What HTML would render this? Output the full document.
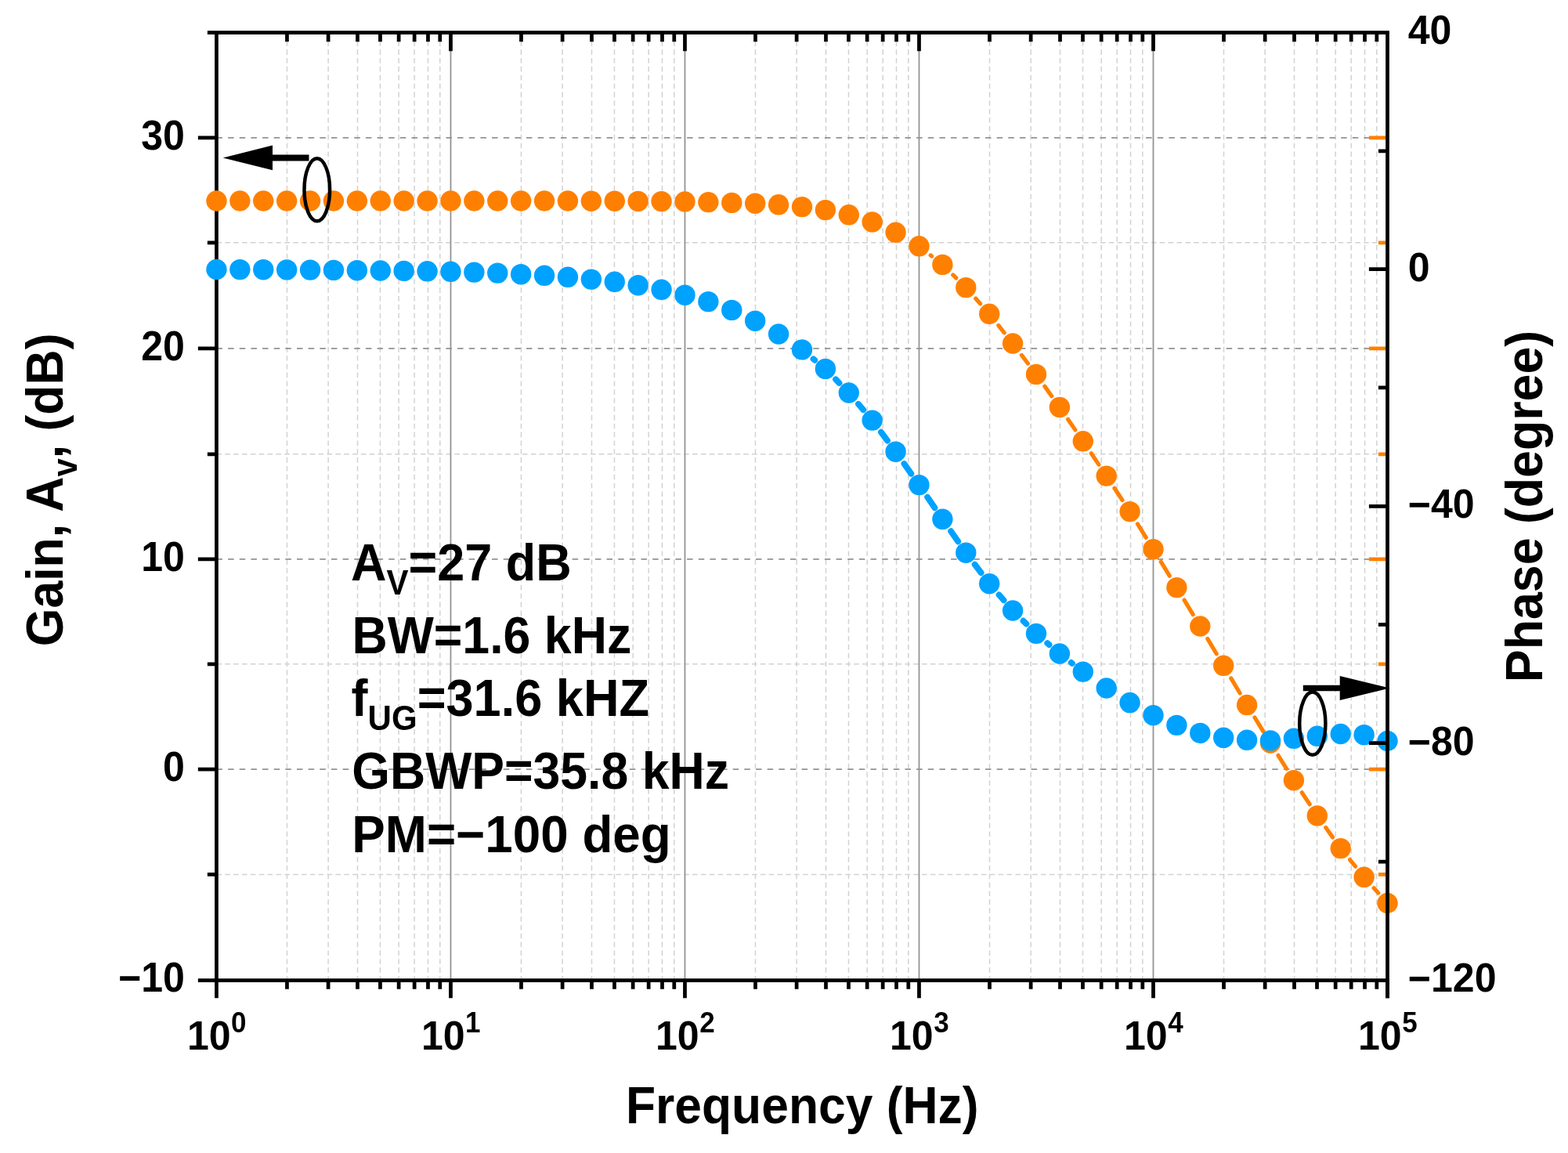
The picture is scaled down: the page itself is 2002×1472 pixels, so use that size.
<!DOCTYPE html>
<html lang="en"><head><meta charset="utf-8"><title>Gain and Phase vs Frequency</title>
<style>html,body{margin:0;padding:0;background:#fff;}body{width:2002px;height:1472px;overflow:hidden;}svg{display:block;}text{font-family:"Liberation Sans",sans-serif;font-weight:bold;fill:#000;}</style>
</head><body>
<svg width="2002" height="1472" viewBox="0 0 2002 1472">
<rect width="2002" height="1472" fill="#fff"/>
<g fill="none" stroke-width="1.8">
<path d="M366.46 41.6V1251.55M419.11 41.6V1251.55M456.47 41.6V1251.55M485.45 41.6V1251.55M509.13 41.6V1251.55M529.14 41.6V1251.55M546.48 41.6V1251.55M561.78 41.6V1251.55M665.47 41.6V1251.55M718.12 41.6V1251.55M755.48 41.6V1251.55M784.46 41.6V1251.55M808.14 41.6V1251.55M828.15 41.6V1251.55M845.49 41.6V1251.55M860.79 41.6V1251.55M964.48 41.6V1251.55M1017.13 41.6V1251.55M1054.49 41.6V1251.55M1083.47 41.6V1251.55M1107.15 41.6V1251.55M1127.16 41.6V1251.55M1144.5 41.6V1251.55M1159.8 41.6V1251.55M1263.49 41.6V1251.55M1316.14 41.6V1251.55M1353.5 41.6V1251.55M1382.48 41.6V1251.55M1406.16 41.6V1251.55M1426.17 41.6V1251.55M1443.51 41.6V1251.55M1458.81 41.6V1251.55M1562.5 41.6V1251.55M1615.15 41.6V1251.55M1652.51 41.6V1251.55M1681.49 41.6V1251.55M1705.17 41.6V1251.55M1725.18 41.6V1251.55M1742.52 41.6V1251.55M1757.82 41.6V1251.55" stroke="#d2d2d2" stroke-width="1.5" stroke-dasharray="6.6 4.25"/>
<path d="M276.45 309.86H1771.5M276.45 579.86H1771.5M276.45 847.8H1771.5M276.45 1116.4H1771.5" stroke="#d2d2d2" stroke-width="1.5" stroke-dasharray="6.6 4.25"/>
<path d="M575.46 41.6V1251.55M874.47 41.6V1251.55M1173.48 41.6V1251.55M1472.49 41.6V1251.55" stroke="#939393"/>
<path d="M276.45 175.85H1771.5M276.45 444.86H1771.5M276.45 713.97H1771.5M276.45 982.05H1771.5" stroke="#939393" stroke-dasharray="7.5 7.15"/>
</g>
<g fill="none" stroke="#000" stroke-width="4.75">
<path d="M276.45 41.6V1274.25"/>
<path d="M252.85 1251.55H1773.88"/>
<path d="M264.85 41.6H1773.88"/>
<path d="M366.46 1251.55V1262.85M366.46 41.6V53.2M419.11 1251.55V1262.85M419.11 41.6V53.2M456.47 1251.55V1262.85M456.47 41.6V53.2M485.45 1251.55V1262.85M485.45 41.6V53.2M509.13 1251.55V1262.85M509.13 41.6V53.2M529.14 1251.55V1262.85M529.14 41.6V53.2M546.48 1251.55V1262.85M546.48 41.6V53.2M561.78 1251.55V1262.85M561.78 41.6V53.2M575.46 1251.55V1274.25M575.46 41.6V65.2M665.47 1251.55V1262.85M665.47 41.6V53.2M718.12 1251.55V1262.85M718.12 41.6V53.2M755.48 1251.55V1262.85M755.48 41.6V53.2M784.46 1251.55V1262.85M784.46 41.6V53.2M808.14 1251.55V1262.85M808.14 41.6V53.2M828.15 1251.55V1262.85M828.15 41.6V53.2M845.49 1251.55V1262.85M845.49 41.6V53.2M860.79 1251.55V1262.85M860.79 41.6V53.2M874.47 1251.55V1274.25M874.47 41.6V65.2M964.48 1251.55V1262.85M964.48 41.6V53.2M1017.13 1251.55V1262.85M1017.13 41.6V53.2M1054.49 1251.55V1262.85M1054.49 41.6V53.2M1083.47 1251.55V1262.85M1083.47 41.6V53.2M1107.15 1251.55V1262.85M1107.15 41.6V53.2M1127.16 1251.55V1262.85M1127.16 41.6V53.2M1144.5 1251.55V1262.85M1144.5 41.6V53.2M1159.8 1251.55V1262.85M1159.8 41.6V53.2M1173.48 1251.55V1274.25M1173.48 41.6V65.2M1263.49 1251.55V1262.85M1263.49 41.6V53.2M1316.14 1251.55V1262.85M1316.14 41.6V53.2M1353.5 1251.55V1262.85M1353.5 41.6V53.2M1382.48 1251.55V1262.85M1382.48 41.6V53.2M1406.16 1251.55V1262.85M1406.16 41.6V53.2M1426.17 1251.55V1262.85M1426.17 41.6V53.2M1443.51 1251.55V1262.85M1443.51 41.6V53.2M1458.81 1251.55V1262.85M1458.81 41.6V53.2M1472.49 1251.55V1274.25M1472.49 41.6V65.2M1562.5 1251.55V1262.85M1562.5 41.6V53.2M1615.15 1251.55V1262.85M1615.15 41.6V53.2M1652.51 1251.55V1262.85M1652.51 41.6V53.2M1681.49 1251.55V1262.85M1681.49 41.6V53.2M1705.17 1251.55V1262.85M1705.17 41.6V53.2M1725.18 1251.55V1262.85M1725.18 41.6V53.2M1742.52 1251.55V1262.85M1742.52 41.6V53.2M1757.82 1251.55V1262.85M1757.82 41.6V53.2M1771.5 1251.55V1274.25"/>
<path d="M252.85 175.85H276.45M252.85 444.86H276.45M252.85 713.97H276.45M252.85 982.05H276.45M264.85 309.86H276.45M264.85 579.86H276.45M264.85 847.8H276.45M264.85 1116.4H276.45"/>
</g>
<path d="M1747.9 175.85H1771.5M1747.9 444.86H1771.5M1747.9 713.97H1771.5M1747.9 982.05H1771.5M1759.9 309.86H1771.5M1759.9 579.86H1771.5M1759.9 847.8H1771.5M1759.9 1116.4H1771.5" fill="none" stroke="#FF8000" stroke-width="4.75"/>
<path d="M1188.16 325.89L1189.64 327.06M1216.76 350.97L1220.76 354.87M1245.69 381.09L1251.57 387.71M1274.8 415.45L1282.21 424.79M1304.39 453.4L1312.41 463.96M1333.83 493.13L1342.74 505.64M1363.5 535.3L1372.86 548.89M1393.25 578.8L1402.9 593.09M1422.96 623.23L1432.98 638.48M1452.46 668.98L1463.25 686.34M1482.25 717.15L1493.26 735.17M1512.07 766.1L1523.23 784.53M1541.85 815.57L1553.25 834.76M1571.76 865.87L1583.15 885.01M1601.92 915.96L1612.8 933.61M1631.93 964.34L1642.6 981.37M1662.21 1011.8L1672.14 1026.8M1692.69 1056.6L1701.5 1068.88M1723.51 1097.6L1730.55 1106.23M1754.11 1133.7L1759.79 1140" fill="none" stroke="#FF8000" stroke-width="5.2" stroke-linecap="round"/>
<g fill="#FF8000">
<circle cx="276.45" cy="256.46" r="13.2"/>
<circle cx="306.35" cy="256.46" r="13.2"/>
<circle cx="336.25" cy="256.46" r="13.2"/>
<circle cx="366.15" cy="256.46" r="13.2"/>
<circle cx="396.05" cy="256.46" r="13.2"/>
<circle cx="425.95" cy="256.46" r="13.2"/>
<circle cx="455.86" cy="256.46" r="13.2"/>
<circle cx="485.76" cy="256.46" r="13.2"/>
<circle cx="515.66" cy="256.46" r="13.2"/>
<circle cx="545.56" cy="256.46" r="13.2"/>
<circle cx="575.46" cy="256.46" r="13.2"/>
<circle cx="605.36" cy="256.46" r="13.2"/>
<circle cx="635.26" cy="256.46" r="13.2"/>
<circle cx="665.16" cy="256.46" r="13.2"/>
<circle cx="695.06" cy="256.46" r="13.2"/>
<circle cx="724.96" cy="256.46" r="13.2"/>
<circle cx="754.87" cy="256.7" r="13.2"/>
<circle cx="784.77" cy="256.7" r="13.2"/>
<circle cx="814.67" cy="256.9" r="13.2"/>
<circle cx="844.57" cy="257.1" r="13.2"/>
<circle cx="874.47" cy="257.4" r="13.2"/>
<circle cx="904.37" cy="258.1" r="13.2"/>
<circle cx="934.27" cy="258.9" r="13.2"/>
<circle cx="964.17" cy="259.7" r="13.2"/>
<circle cx="994.07" cy="261.3" r="13.2"/>
<circle cx="1023.97" cy="264.1" r="13.2"/>
<circle cx="1053.88" cy="268.1" r="13.2"/>
<circle cx="1083.78" cy="274.3" r="13.2"/>
<circle cx="1113.68" cy="283.4" r="13.2"/>
<circle cx="1143.58" cy="296.8" r="13.2"/>
<circle cx="1173.48" cy="314.3" r="13.2"/>
<circle cx="1203.38" cy="337.9" r="13.2"/>
<circle cx="1233.28" cy="367.1" r="13.2"/>
<circle cx="1263.18" cy="400.8" r="13.2"/>
<circle cx="1293.08" cy="438.5" r="13.2"/>
<circle cx="1322.99" cy="477.9" r="13.2"/>
<circle cx="1352.89" cy="519.9" r="13.2"/>
<circle cx="1382.79" cy="563.3" r="13.2"/>
<circle cx="1412.69" cy="607.6" r="13.2"/>
<circle cx="1442.59" cy="653.1" r="13.2"/>
<circle cx="1472.49" cy="701.2" r="13.2"/>
<circle cx="1502.39" cy="750.1" r="13.2"/>
<circle cx="1532.29" cy="799.5" r="13.2"/>
<circle cx="1562.19" cy="849.8" r="13.2"/>
<circle cx="1592.09" cy="900.05" r="13.2"/>
<circle cx="1621.99" cy="948.5" r="13.2"/>
<circle cx="1651.9" cy="996.2" r="13.2"/>
<circle cx="1681.8" cy="1041.4" r="13.2"/>
<circle cx="1711.7" cy="1083.1" r="13.2"/>
<circle cx="1741.6" cy="1119.8" r="13.2"/>
<circle cx="1771.5" cy="1153" r="13.2"/>
</g>
<path d="M1038.52 458.32L1040.26 459.75M1067.02 484.35L1071.48 488.91M1095.97 515.81L1102.26 523.2M1124.92 551.67L1133.06 562.59M1154.41 592.06L1163.34 604.72M1184.1 634.62L1193.44 648.27M1214.13 678.22L1223.22 691.26M1244.63 720.69L1252.56 731.17M1275.54 759.37L1281.52 766.23M1306.5 792.67L1310.42 796.52M1337.25 821.09L1339.53 823.04M1367.76 845.99L1368.86 846.84" fill="none" stroke="#00A2FF" stroke-width="7.8" stroke-linecap="round"/>
<g fill="#00A2FF">
<circle cx="276.45" cy="344" r="13.2"/>
<circle cx="306.35" cy="344.1" r="13.2"/>
<circle cx="336.25" cy="344.2" r="13.2"/>
<circle cx="366.15" cy="344.4" r="13.2"/>
<circle cx="396.05" cy="344.6" r="13.2"/>
<circle cx="425.95" cy="344.9" r="13.2"/>
<circle cx="455.86" cy="345.2" r="13.2"/>
<circle cx="485.76" cy="345.5" r="13.2"/>
<circle cx="515.66" cy="345.9" r="13.2"/>
<circle cx="545.56" cy="346.3" r="13.2"/>
<circle cx="575.46" cy="346.8" r="13.2"/>
<circle cx="605.36" cy="347.6" r="13.2"/>
<circle cx="635.26" cy="348.6" r="13.2"/>
<circle cx="665.16" cy="350.2" r="13.2"/>
<circle cx="695.06" cy="351.8" r="13.2"/>
<circle cx="724.96" cy="353.8" r="13.2"/>
<circle cx="754.87" cy="356.6" r="13.2"/>
<circle cx="784.77" cy="359.8" r="13.2"/>
<circle cx="814.67" cy="364.2" r="13.2"/>
<circle cx="844.57" cy="369.8" r="13.2"/>
<circle cx="874.47" cy="376.7" r="13.2"/>
<circle cx="904.37" cy="385.1" r="13.2"/>
<circle cx="934.27" cy="395.9" r="13.2"/>
<circle cx="964.17" cy="409.7" r="13.2"/>
<circle cx="994.07" cy="426.5" r="13.2"/>
<circle cx="1023.97" cy="446.4" r="13.2"/>
<circle cx="1053.88" cy="470.9" r="13.2"/>
<circle cx="1083.78" cy="501.5" r="13.2"/>
<circle cx="1113.68" cy="536.6" r="13.2"/>
<circle cx="1143.58" cy="576.7" r="13.2"/>
<circle cx="1173.48" cy="619.1" r="13.2"/>
<circle cx="1203.38" cy="662.8" r="13.2"/>
<circle cx="1233.28" cy="705.7" r="13.2"/>
<circle cx="1263.18" cy="745.2" r="13.2"/>
<circle cx="1293.08" cy="779.5" r="13.2"/>
<circle cx="1322.99" cy="808.85" r="13.2"/>
<circle cx="1352.89" cy="834.5" r="13.2"/>
<circle cx="1382.79" cy="857.6" r="13.2"/>
<circle cx="1412.69" cy="878.5" r="13.2"/>
<circle cx="1442.59" cy="897.06" r="13.2"/>
<circle cx="1472.49" cy="913.15" r="13.2"/>
<circle cx="1502.39" cy="925.85" r="13.2"/>
<circle cx="1532.29" cy="935.95" r="13.2"/>
<circle cx="1562.19" cy="941.8" r="13.2"/>
<circle cx="1592.09" cy="944.8" r="13.2"/>
<circle cx="1621.99" cy="945.4" r="13.2"/>
<circle cx="1651.9" cy="942.8" r="13.2"/>
<circle cx="1681.8" cy="939.8" r="13.2"/>
<circle cx="1711.7" cy="937" r="13.2"/>
<circle cx="1741.6" cy="938.2" r="13.2"/>
<circle cx="1771.5" cy="946" r="13.2"/>
</g>
<g fill="none" stroke="#000" stroke-width="4.75">
<path d="M1771.5 41.6V1274.25"/>
<path d="M1747.9 343.6H1771.5M1747.9 646.46H1771.5M1747.9 948.5H1771.5M1759.9 192.8H1771.5M1759.9 494.77H1771.5M1759.9 797.49H1771.5M1759.9 1100.09H1771.5"/>
</g>
<text transform="translate(235.9 190.7) scale(0.9425 1)" font-size="53.1" text-anchor="end">30</text>
<text transform="translate(235.9 460) scale(0.9425 1)" font-size="53.1" text-anchor="end">20</text>
<text transform="translate(235.9 728.8) scale(0.9425 1)" font-size="53.1" text-anchor="end">10</text>
<text transform="translate(235.9 996.8) scale(0.9425 1)" font-size="53.1" text-anchor="end">0</text>
<text transform="translate(235.9 1266) scale(0.9425 1)" font-size="53.1" text-anchor="end"><tspan dy="1.38">−</tspan><tspan dy="-1.38">10</tspan></text>
<text transform="translate(1797.8 55.95) scale(0.9533 1)" font-size="52.5">40</text>
<text transform="translate(1797.8 358.9) scale(0.9533 1)" font-size="52.5">0</text>
<text transform="translate(1797.8 660.6) scale(0.9533 1)" font-size="52.5"><tspan dy="0.94">−</tspan><tspan dy="-0.94">40</tspan></text>
<text transform="translate(1797.8 963.95) scale(0.9533 1)" font-size="52.5"><tspan dy="0.94">−</tspan><tspan dy="-0.94">80</tspan></text>
<text transform="translate(1797.8 1266.3) scale(0.9533 1)" font-size="52.5"><tspan dy="0.94">−</tspan><tspan dy="-0.94">120</tspan></text>
<text transform="translate(276.75 1339.8) scale(0.9533 1)" font-size="52.5" text-anchor="middle">10<tspan font-size="36.75" dx="0.6" dy="-21.47">0</tspan></text>
<text transform="translate(575.76 1339.8) scale(0.9533 1)" font-size="52.5" text-anchor="middle">10<tspan font-size="36.75" dx="0.6" dy="-21.47">1</tspan></text>
<text transform="translate(874.77 1339.8) scale(0.9533 1)" font-size="52.5" text-anchor="middle">10<tspan font-size="36.75" dx="0.6" dy="-21.47">2</tspan></text>
<text transform="translate(1173.78 1339.8) scale(0.9533 1)" font-size="52.5" text-anchor="middle">10<tspan font-size="36.75" dx="0.6" dy="-21.47">3</tspan></text>
<text transform="translate(1472.79 1339.8) scale(0.9533 1)" font-size="52.5" text-anchor="middle">10<tspan font-size="36.75" dx="0.6" dy="-21.47">4</tspan></text>
<text transform="translate(1771.8 1339.8) scale(0.9533 1)" font-size="52.5" text-anchor="middle">10<tspan font-size="36.75" dx="0.6" dy="-21.47">5</tspan></text>
<text transform="translate(1024.2 1433.9) scale(0.9425 1)" font-size="66.2" text-anchor="middle">Frequency (Hz)</text>
<text transform="translate(80.3 625.35) rotate(-90) scale(0.9454 1)" font-size="66.2" text-anchor="middle">Gain, A<tspan font-size="44.14" dy="17.87">v</tspan><tspan dy="-17.87">, (dB)</tspan></text>
<text transform="translate(1968.8 646.5) rotate(-90) scale(0.9470 1)" font-size="66.2" text-anchor="middle">Phase (degree)</text>
<text transform="translate(447.9 740.8) scale(0.9514 1)" font-size="66.2">A<tspan font-size="44.14" dy="17.87">V</tspan><tspan dy="-17.87">=27 dB</tspan></text>
<text transform="translate(449.4 834.2) scale(0.9464 1)" font-size="66.2">BW=1.6 kHz</text>
<text transform="translate(448.5 913.8) scale(0.9535 1)" font-size="66.2">f<tspan font-size="44.14" dy="18.21">UG</tspan><tspan dy="-18.21">=31.6 kHZ</tspan></text>
<text transform="translate(449.3 1007.4) scale(0.9454 1)" font-size="66.2">GBWP=35.8 kHz</text>
<text transform="translate(449.3 1087.8) scale(0.9630 1)" font-size="66.2">PM=−100 deg</text>
<g fill="#000" stroke="none">
<path d="M284.7 201.4L348 185.6V197.5H394.5V205.4H348V217.2Z"/>
<path d="M1774.5 878.4L1710.7 862.9V874.7H1663.8V882.2H1710.7V893.9Z"/>
</g>
<g fill="none" stroke="#000" stroke-width="4.5">
<ellipse cx="404.8" cy="242.3" rx="16.3" ry="40"/>
<ellipse cx="1675.8" cy="923.7" rx="16.6" ry="40.1"/>
</g>
</svg>
</body></html>
